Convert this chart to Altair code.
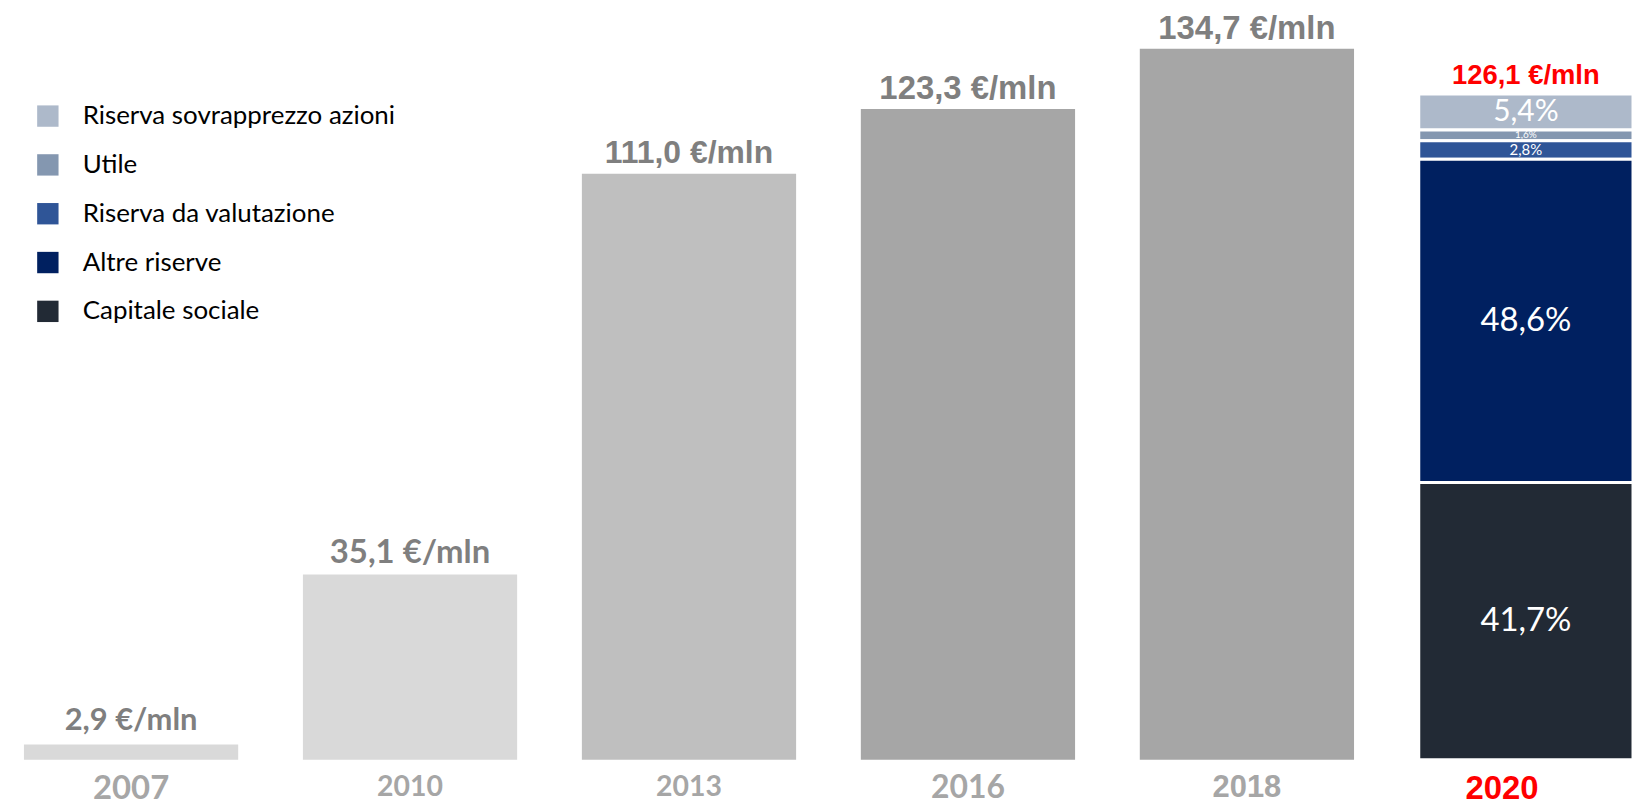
import altair as alt
import pandas as pd

# ---------------- data ----------------
years = ["2007", "2010", "2013", "2016", "2018", "2020"]
totals = [2.9, 35.1, 111.0, 123.3, 134.7, 126.1]
total_labels = ["2,9 €/mln", "35,1 €/mln", "111,0 €/mln", "123,3 €/mln", "134,7 €/mln", "126,1 €/mln"]

components = ["Riserva sovrapprezzo azioni", "Utile", "Riserva da valutazione",
              "Altre riserve", "Capitale sociale"]
shares_2020 = [5.4, 1.6, 2.8, 48.6, 41.7]
share_labels = ["5,4%", "1,6%", "2,8%", "48,6%", "41,7%"]

# ---------------- tables ----------------
hist = pd.DataFrame({"year": years[:5], "total": totals[:5]})
lab = pd.DataFrame({"year": years, "total": totals, "label": total_labels})
comp = pd.DataFrame({"year": years[-1], "component": components,
                     "share": shares_2020, "share_label": share_labels})
comp["amount"] = comp["share"] / comp["share"].sum() * totals[-1]
comp["rank"] = list(range(len(components)))

CALIBRI = "Lato, Open Sans, sans-serif"
ARIAL = "Liberation Sans, Arial, sans-serif"

x_axis = alt.Axis(
    title=None, domain=False, ticks=False, labelAngle=0, labelPadding=13,
    labelFontWeight="bold",
    labelColor={"condition": {"test": "datum.value == '2020'", "value": "#ff0000"},
                "value": "#a6a6a6"},
    labelFont={"condition": {"test": "datum.value == '2018' || datum.value == '2020'",
                             "value": ARIAL},
               "value": CALIBRI},
    labelFontSize={"condition": [
        {"test": "datum.value == '2007'", "value": 33},
        {"test": "datum.value == '2016'", "value": 32},
        {"test": "datum.value == '2018'", "value": 31},
        {"test": "datum.value == '2020'", "value": 33}],
        "value": 28.5},
    labelOffset={"condition": {"test": "datum.value == '2020'", "value": -24}, "value": 0},
)
X = alt.X("year:N", scale=alt.Scale(domain=years, paddingInner=0.232, paddingOuter=0),
          axis=x_axis, sort=years)
Y_SCALE = alt.Scale(domain=[0, 141], nice=False)

gray_bars = alt.Chart(hist).mark_bar().encode(
    x=X,
    y=alt.Y("total:Q", scale=Y_SCALE, axis=None),
    color=alt.Color("year:N", legend=None,
                    scale=alt.Scale(domain=years[:5],
                                    range=["#d9d9d9", "#d9d9d9", "#bfbfbf", "#a6a6a6", "#a6a6a6"])),
)

stacked = alt.Chart(comp).transform_stack(
    stack="amount", groupby=["year"], as_=["y0", "y1"],
    sort=[alt.SortField("rank", order="descending")]
).transform_calculate(ymid="(datum.y0 + datum.y1) / 2")

stack_bars = stacked.mark_bar(stroke="white", strokeWidth=3).encode(
    x=X,
    y=alt.Y("y0:Q", scale=Y_SCALE, axis=None),
    y2="y1:Q",
    color=alt.Color("component:N",
                    scale=alt.Scale(domain=components,
                                    range=["#adb9ca", "#8497b0", "#2f5597", "#002060", "#222a35"]),
                    legend=alt.Legend(title=None, orient="none", legendX=11, legendY=88,
                                      symbolType="square", symbolSize=460, symbolStrokeWidth=0,
                                      labelFontSize=26, labelFont=CALIBRI, labelColor="#000000",
                                      rowPadding=23, labelOffset=22, labelLimit=500)),
)

stack_text = stacked.mark_text(color="white", font=CALIBRI, baseline="middle").encode(
    x=X,
    y=alt.Y("ymid:Q", scale=Y_SCALE, axis=None),
    text="share_label:N",
    size=alt.Size("share:Q", legend=None,
                  scale=alt.Scale(type="threshold", domain=[2, 4, 10], range=[10, 15, 30, 33])),
)


def value_text(sel, font, size, color, dy):
    return alt.Chart(lab).transform_filter(
        alt.FieldOneOfPredicate(field="year", oneOf=sel)
    ).mark_text(font=font, fontSize=size, fontWeight="bold", color=color,
                baseline="bottom", dy=dy).encode(
        x=X, y=alt.Y("total:Q", scale=Y_SCALE, axis=None), text="label:N")


t1 = value_text(["2007"], CALIBRI, 31, "#7f7f7f", -7)
t2 = value_text(["2010"], CALIBRI, 33, "#7f7f7f", -4)
t3 = value_text(["2013"], ARIAL, 32, "#7f7f7f", -4)
t4 = value_text(["2016", "2018"], ARIAL, 33, "#7f7f7f", -3)
t5 = value_text(["2020"], ARIAL, 27.5, "#ff0000", -4)

chart = alt.layer(gray_bars, stack_bars, stack_text, t1, t2, t3, t4, t5).resolve_scale(
    color="independent"
).properties(
    width=1615, height=747,
    autosize=alt.AutoSizeParams(type="none"),
    padding={"left": 16, "top": 6, "right": 0, "bottom": 50},
).configure_view(stroke=None)

chart.save("out.html", embed_options={"renderer": "svg", "actions": False})
